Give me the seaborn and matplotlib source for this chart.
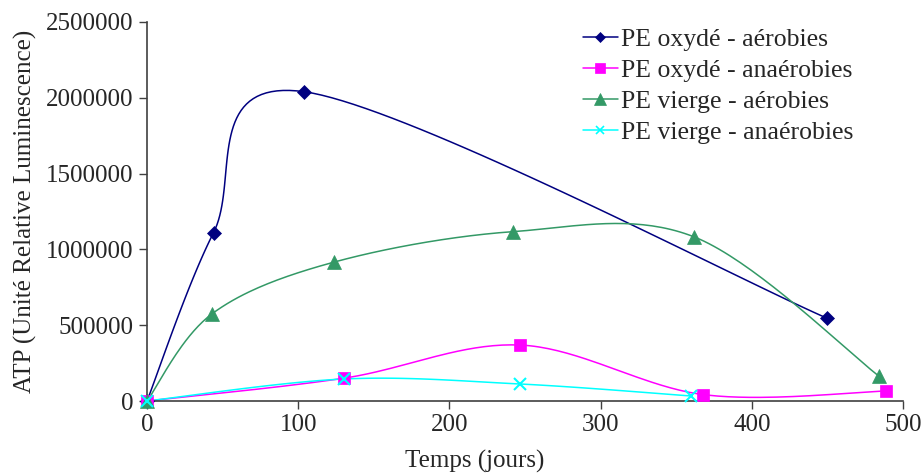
import numpy as np
import pandas as pd
import matplotlib
matplotlib.use("Agg")
import matplotlib.pyplot as plt
from matplotlib.lines import Line2D
import seaborn as sns

# ---- data ----
x_ox_aer = [0, 44, 104, 450]
y_ox_aer = [0, 1110000, 2040000, 545000]

x_ox_ana = [0, 130, 247, 368, 489]
y_ox_ana = [0, 150000, 369000, 42000, 66000]

x_vi_aer = [0, 43, 124, 242, 362, 484]
y_vi_aer = [0, 575000, 917000, 1117000, 1082000, 165000]

x_vi_ana = [0, 130, 247, 360]
y_vi_ana = [0, 145000, 112000, 33000]

labels = ["PE oxydé - aérobies", "PE oxydé - anaérobies",
          "PE vierge - aérobies", "PE vierge - anaérobies"]
colors = ["#000080", "#FF00FF", "#339966", "#00FFFF"]
markers = ["D", "s", "^", "x"]
msizes = [7, 9, 10, 8]


def smooth(xs, ys, n=40):
    # Excel-style smoothed line (Catmull-Rom / Bezier)
    p = np.column_stack([xs, ys]).astype(float)
    p = np.vstack([p[0], p, p[-1]])
    out = []
    t = np.linspace(0, 1, n)[:, None]
    for i in range(1, len(p) - 2):
        p0, p1, p2, p3 = p[i - 1], p[i], p[i + 1], p[i + 2]
        c1 = p1 + (p2 - p0) / 6
        c2 = p2 - (p3 - p1) / 6
        seg = ((1 - t) ** 3) * p1 + 3 * ((1 - t) ** 2) * t * c1 + 3 * (1 - t) * t ** 2 * c2 + t ** 3 * p2
        out.append(seg)
    out = np.vstack(out)
    return out[:, 0], out[:, 1]


sns.set_style("white")
plt.rcParams["font.family"] = ["Liberation Serif", "DejaVu Serif"]

fig, ax = plt.subplots(figsize=(9.23, 4.75), dpi=100)
fig.subplots_adjust(left=147 / 923, right=903 / 923, bottom=1 - 401 / 475, top=1 - 22 / 475)

series = [(x_ox_aer, y_ox_aer), (x_ox_ana, y_ox_ana), (x_vi_aer, y_vi_aer), (x_vi_ana, y_vi_ana)]
handles = []
for (xs, ys), lab, c, m, ms in zip(series, labels, colors, markers, msizes):
    sx, sy = smooth(xs, ys)
    sns.lineplot(x=sx, y=sy, sort=False, color=c, linewidth=1.1, ax=ax, legend=False)
    ax.plot(xs, ys, linestyle="none", marker=m, color=c, markersize=ms,
            markeredgewidth=1.5 if m == "x" else 0.5, clip_on=False, zorder=5)
    handles.append(Line2D([0], [0], color=c, linewidth=1.1, marker=m, markersize=ms - 2,
                          markeredgewidth=1.2 if m == "x" else 0.5))

ax.set_xlim(0, 500)
ax.set_ylim(0, 2500000)
ax.set_xticks(range(0, 501, 100))
ax.set_yticks(range(0, 2500001, 500000))
ax.tick_params(axis="both", labelsize=18, direction="out", length=6, width=1,
               color="#404040", bottom=True, left=True)
ax.xaxis.set_major_formatter(matplotlib.ticker.FuncFormatter(lambda v, p: f"{int(v)}"))
ax.yaxis.set_major_formatter(matplotlib.ticker.FuncFormatter(lambda v, p: f"{int(v)}"))

for s in ["top", "right"]:
    ax.spines[s].set_visible(False)
for s in ["left", "bottom"]:
    ax.spines[s].set_color("#404040")
    ax.spines[s].set_linewidth(1.2)

ax.set_xlabel("Temps (jours)", fontsize=18)
ax.set_ylabel("ATP (Unité Relative Luminescence)", fontsize=18)
ax.xaxis.set_label_coords(0.433, -0.128)
ax.yaxis.set_label_coords(-0.146, 0.5)

ax.legend(handles, labels, loc="upper left", bbox_to_anchor=(0.563, 1.01), frameon=False,
          fontsize=18.5, handlelength=1.35, handletextpad=0.15, labelspacing=0.3,
          borderaxespad=0)

fig.savefig("out.png", dpi=100)
